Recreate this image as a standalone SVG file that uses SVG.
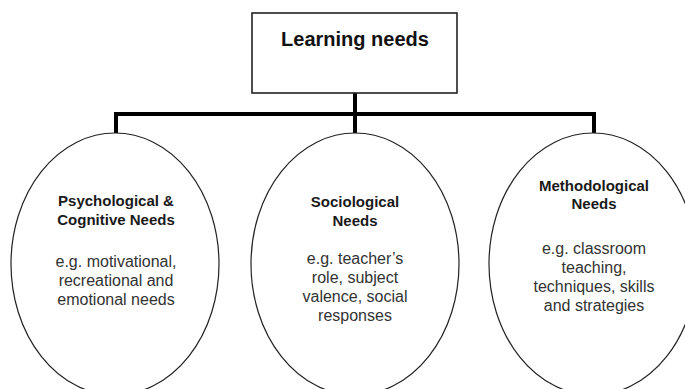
<svg xmlns="http://www.w3.org/2000/svg" width="685" height="389" viewBox="0 0 685 389">
<style>
.node{fill:#fff;stroke:#222;stroke-width:1.2}
.box{fill:#fff;stroke:#222;stroke-width:1.6}
.conn{fill:none;stroke:#000;stroke-width:4;stroke-linejoin:miter;stroke-linecap:butt}
.title{font-family:"Liberation Sans",Arial,sans-serif;font-weight:bold;font-size:20px;fill:#111;text-anchor:middle}
.head{font-family:"Liberation Sans",Arial,sans-serif;font-weight:bold;font-size:15px;fill:#1a1a1a;text-anchor:middle}
.body{font-family:"Liberation Sans",Arial,sans-serif;font-size:16px;fill:#333;text-anchor:middle}
</style>
<rect width="685" height="389" fill="#fff"/>
<g id="connectors">
<path class="conn" d="M355,93 V133"/>
<path class="conn" d="M116,133 V114 H594 V133"/>
</g>
<g id="learning-needs">
<rect class="box" x="252" y="13" width="205" height="80"/>
<text class="title" x="355" y="46">Learning needs</text>
</g>
<g id="psychological">
<ellipse class="node" cx="115" cy="264" rx="104" ry="131"/>
<text class="head" x="116" y="206">Psychological &amp;</text>
<text class="head" x="116" y="225">Cognitive Needs</text>
<text class="body" x="116" y="267">e.g. motivational,</text>
<text class="body" x="116" y="286">recreational and</text>
<text class="body" x="116" y="305">emotional needs</text>
</g>
<g id="sociological">
<ellipse class="node" cx="355" cy="264" rx="104" ry="131"/>
<text class="head" x="355" y="207">Sociological</text>
<text class="head" x="355" y="226">Needs</text>
<text class="body" x="355" y="264">e.g. teacher’s</text>
<text class="body" x="355" y="283">role, subject</text>
<text class="body" x="355" y="302">valence, social</text>
<text class="body" x="355" y="321">responses</text>
</g>
<g id="methodological">
<ellipse class="node" cx="593" cy="264" rx="104" ry="131"/>
<text class="head" x="594" y="191">Methodological</text>
<text class="head" x="594" y="209">Needs</text>
<text class="body" x="594" y="254">e.g. classroom</text>
<text class="body" x="594" y="273">teaching,</text>
<text class="body" x="594" y="292">techniques, skills</text>
<text class="body" x="594" y="311">and strategies</text>
</g>
</svg>
